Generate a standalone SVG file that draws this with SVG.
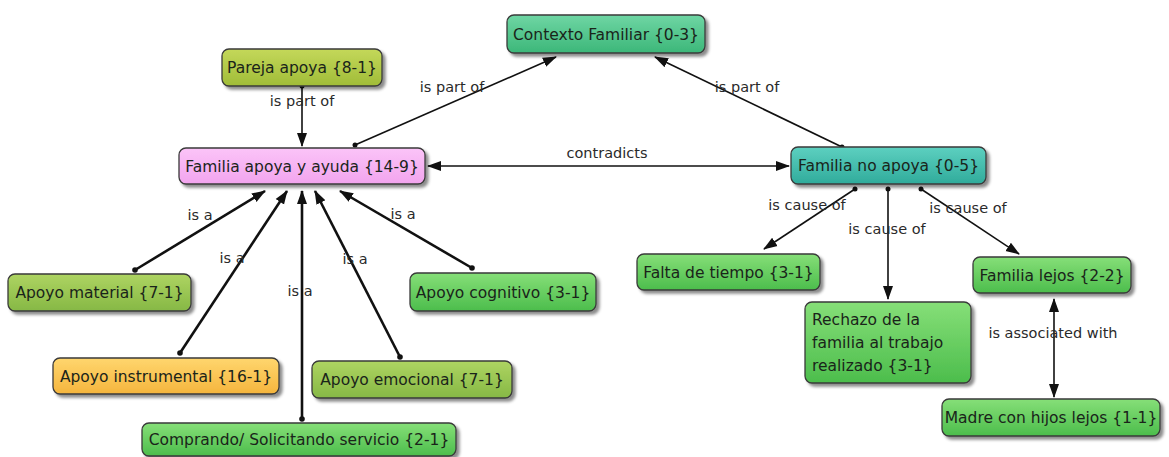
<svg xmlns="http://www.w3.org/2000/svg" width="1169" height="457" viewBox="0 0 1169 457">
<style>
.node rect{stroke:#3a3a3a;stroke-width:1.3;filter:url(#sh)}
.node text{font-family:"DejaVu Sans",sans-serif;font-size:15.5px;fill:#1a241a;text-anchor:middle}
.node text.left{text-anchor:start}
.edge{stroke:#111;stroke-width:1.6;fill:none}
.thick{stroke-width:2.6}
.lbl{font-family:"DejaVu Sans",sans-serif;font-size:14.5px;fill:#2a2a2a;text-anchor:middle}
.dot{fill:#111}
</style>
<defs>
<filter id="sh" x="-10%" y="-20%" width="130%" height="160%">
<feDropShadow dx="3" dy="3" stdDeviation="1.5" flood-color="#000" flood-opacity="0.45"/>
</filter>
<linearGradient id="gTeal" x1="0" y1="0" x2="0" y2="1"><stop offset="0" stop-color="#6fd6a4"/><stop offset="1" stop-color="#3cb779"/></linearGradient>
<linearGradient id="gTeal2" x1="0" y1="0" x2="0" y2="1"><stop offset="0" stop-color="#5dd0c0"/><stop offset="1" stop-color="#30ab9b"/></linearGradient>
<linearGradient id="gOlive" x1="0" y1="0" x2="0" y2="1"><stop offset="0" stop-color="#c4d85a"/><stop offset="1" stop-color="#a0bc38"/></linearGradient>
<linearGradient id="gOlive2" x1="0" y1="0" x2="0" y2="1"><stop offset="0" stop-color="#aed462"/><stop offset="1" stop-color="#86b845"/></linearGradient>
<linearGradient id="gPink" x1="0" y1="0" x2="0" y2="1"><stop offset="0" stop-color="#fbc4f8"/><stop offset="1" stop-color="#f2a4ee"/></linearGradient>
<linearGradient id="gOrange" x1="0" y1="0" x2="0" y2="1"><stop offset="0" stop-color="#ffd66e"/><stop offset="1" stop-color="#f5b53d"/></linearGradient>
<linearGradient id="gGreen" x1="0" y1="0" x2="0" y2="1"><stop offset="0" stop-color="#86df78"/><stop offset="1" stop-color="#4cbd4c"/></linearGradient>
<marker id="ah" markerUnits="userSpaceOnUse" markerWidth="14" markerHeight="12" refX="13" refY="5" orient="auto-start-reverse" viewBox="0 0 14 10">
<path d="M0,0 L14,5 L0,10 z" fill="#111"/>
</marker>
</defs>
<rect width="1169" height="457" fill="#ffffff"/>
<g id="connectors">
<path class="edge" d="M302,86 L302,146" marker-end="url(#ah)"/>
<circle class="dot" cx="302" cy="86" r="2.5"/>
<path class="edge" d="M355,145 L556,57" marker-end="url(#ah)"/>
<circle class="dot" cx="355" cy="145" r="2.5"/>
<path class="edge" d="M842,147 L655,57" marker-end="url(#ah)"/>
<circle class="dot" cx="842" cy="147" r="2.5"/>
<path class="edge" d="M428,166 L789,166" marker-start="url(#ah)" marker-end="url(#ah)"/>
<path class="edge thick" d="M135,270 L265,191" marker-end="url(#ah)"/>
<circle class="dot" cx="135" cy="270" r="2.8"/>
<path class="edge thick" d="M180,353 L287,191" marker-end="url(#ah)"/>
<circle class="dot" cx="180" cy="353" r="2.8"/>
<path class="edge thick" d="M302,419 L302,191" marker-end="url(#ah)"/>
<circle class="dot" cx="302" cy="419" r="2.8"/>
<path class="edge thick" d="M400,357 L315,191" marker-end="url(#ah)"/>
<circle class="dot" cx="400" cy="357" r="2.8"/>
<path class="edge thick" d="M472,268 L340,191" marker-end="url(#ah)"/>
<circle class="dot" cx="472" cy="268" r="2.8"/>
<path class="edge" d="M855,189 L764,249" marker-end="url(#ah)"/>
<circle class="dot" cx="855" cy="189" r="2.5"/>
<path class="edge" d="M888,189 L888,299" marker-end="url(#ah)"/>
<circle class="dot" cx="888" cy="189" r="2.5"/>
<path class="edge" d="M921,189 L1019,254" marker-end="url(#ah)"/>
<circle class="dot" cx="921" cy="189" r="2.5"/>
<path class="edge" d="M1054,299 L1054,397" marker-start="url(#ah)" marker-end="url(#ah)"/>
<text class="lbl" x="302" y="106">is part of</text>
<text class="lbl" x="452" y="92">is part of</text>
<text class="lbl" x="747" y="92">is part of</text>
<text class="lbl" x="607" y="158">contradicts</text>
<text class="lbl" x="200" y="220">is a</text>
<text class="lbl" x="232" y="263">is a</text>
<text class="lbl" x="300" y="296">is a</text>
<text class="lbl" x="355" y="264">is a</text>
<text class="lbl" x="403" y="219">is a</text>
<text class="lbl" x="807" y="210">is cause of</text>
<text class="lbl" x="887" y="234">is cause of</text>
<text class="lbl" x="968" y="213">is cause of</text>
<text class="lbl" x="1053" y="338">is associated with</text>
</g>
<g id="ctx" class="node"><rect x="507" y="15" width="198" height="38" rx="7" fill="url(#gTeal)"/><text x="606" y="39.5">Contexto Familiar {0-3}</text></g>
<g id="pareja" class="node"><rect x="222" y="49" width="160" height="37" rx="7" fill="url(#gOlive)"/><text x="302" y="73">Pareja apoya {8-1}</text></g>
<g id="fay" class="node"><rect x="179" y="148" width="246" height="36" rx="7" fill="url(#gPink)"/><text x="302" y="171.5">Familia apoya y ayuda {14-9}</text></g>
<g id="fna" class="node"><rect x="791" y="147" width="195" height="37" rx="7" fill="url(#gTeal2)"/><text x="888.5" y="171">Familia no apoya {0-5}</text></g>
<g id="material" class="node"><rect x="8" y="274" width="183" height="37" rx="7" fill="url(#gOlive2)"/><text x="99.5" y="298">Apoyo material {7-1}</text></g>
<g id="instrumental" class="node"><rect x="53" y="358" width="226" height="36" rx="7" fill="url(#gOrange)"/><text x="166" y="381.5">Apoyo instrumental {16-1}</text></g>
<g id="comprando" class="node"><rect x="142" y="423" width="314" height="33" rx="7" fill="url(#gGreen)"/><text x="299" y="445">Comprando/ Solicitando servicio {2-1}</text></g>
<g id="emocional" class="node"><rect x="312" y="361" width="200" height="37" rx="7" fill="url(#gOlive2)"/><text x="412" y="385">Apoyo emocional {7-1}</text></g>
<g id="cognitivo" class="node"><rect x="410" y="273" width="186" height="38" rx="7" fill="url(#gGreen)"/><text x="503" y="297.5">Apoyo cognitivo {3-1}</text></g>
<g id="falta" class="node"><rect x="637" y="254" width="183" height="36" rx="7" fill="url(#gGreen)"/><text x="728.5" y="277.5">Falta de tiempo {3-1}</text></g>
<g id="rechazo" class="node"><rect x="805" y="302" width="166" height="81" rx="7" fill="url(#gGreen)"/><text class="left" x="812" y="325">Rechazo de la</text><text class="left" x="812" y="348">familia al trabajo</text><text class="left" x="812" y="371">realizado {3-1}</text></g>
<g id="lejos" class="node"><rect x="973" y="257" width="158" height="36" rx="7" fill="url(#gGreen)"/><text x="1052" y="280.5">Familia lejos {2-2}</text></g>
<g id="madre" class="node"><rect x="942" y="399" width="218" height="37" rx="7" fill="url(#gGreen)"/><text x="1051" y="423">Madre con hijos lejos {1-1}</text></g>
</svg>
